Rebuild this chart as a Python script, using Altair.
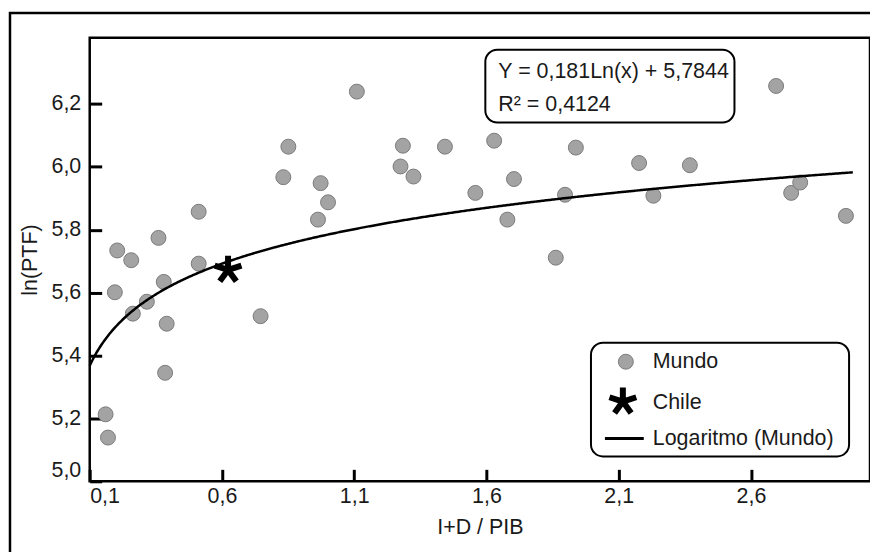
import altair as alt
import pandas as pd

# ---------------- data ----------------
mundo_x = [0.160, 0.169, 0.195, 0.204, 0.257, 0.263, 0.316, 0.360, 0.380, 0.391,
           0.385, 0.512, 0.512, 0.746, 0.832, 0.851, 0.963, 0.973, 1.001, 1.110,
           1.275, 1.284, 1.324, 1.443, 1.558, 1.629, 1.679, 1.704, 1.862, 1.897,
           1.938, 2.177, 2.231, 2.369, 2.695, 2.752, 2.786, 2.959]
mundo_y = [5.213, 5.139, 5.601, 5.734, 5.703, 5.533, 5.571, 5.774, 5.634, 5.501,
           5.345, 5.857, 5.692, 5.525, 5.967, 6.064, 5.832, 5.948, 5.887, 6.239,
           6.001, 6.067, 5.969, 6.064, 5.917, 6.083, 5.832, 5.961, 5.711, 5.911,
           6.061, 6.012, 5.908, 6.005, 6.257, 5.917, 5.950, 5.844]
chile_x = [0.623]
chile_y = [5.672]

# logarithmic trend line as printed on the chart: y = b*ln(x) + a
trend_b = 0.181
trend_a = 5.7844
trend_extent = [0.1, 2.985]

x_ticks = [0.1, 0.6, 1.1, 1.6, 2.1, 2.6]
y_ticks = [5.0, 5.2, 5.4, 5.6, 5.8, 6.0, 6.2]
x_domain = [0.1, 3.05]
y_domain = [5.0, 6.41]

equation_lines = ["Y = 0,181Ln(x) + 5,7844", "R² = 0,4124"]
legend_labels = ["Mundo", "Chile", "Logaritmo (Mundo)"]
x_title = "I+D / PIB"
y_title = "ln(PTF)"

# ---------------- style ----------------
FONT = "Liberation Sans"
FS = 21.5
TXT = "#1a1a1a"
PT_FILL = "#a3a3a3"
PT_STROKE = "#7a7a7a"
ASTERISK = ("M0,0L0,-1M0,0L0.951,-0.309M0,0L0.588,0.809"
            "M0,0L-0.588,0.809M0,0L-0.951,-0.309")
W, H = 783, 445

mundo = pd.DataFrame({"x": mundo_x, "y": mundo_y})
chile = pd.DataFrame({"x": chile_x, "y": chile_y})
one = pd.DataFrame({"k": [0]})

xs = alt.Scale(domain=x_domain, nice=False, zero=False)
ys = alt.Scale(domain=y_domain, nice=False, zero=False)
comma = "replace(format(datum.value, '.1f'), '.', ',')"

X = alt.X("x:Q", scale=xs, axis=alt.Axis(values=x_ticks, labelExpr=comma, title=x_title))
Y = alt.Y("y:Q", scale=ys, axis=alt.Axis(values=y_ticks, labelExpr=comma, title=y_title))

outer = alt.Chart(one).mark_rect(fillOpacity=0, stroke="black", strokeWidth=2.5).encode(
    x=alt.value(-80), x2=alt.value(830), y=alt.value(-25), y2=alt.value(560))

points = alt.Chart(mundo).mark_circle(
    size=225, color=PT_FILL, opacity=1, stroke=PT_STROKE, strokeWidth=1
).encode(x=X, y=Y)

trend = alt.Chart(
    alt.sequence(trend_extent[0], trend_extent[1] + 0.001, 0.005, as_="x")
).transform_calculate(
    y=f"{trend_a} + {trend_b} * log(datum.x)"
).mark_line(color="black", strokeWidth=2.5).encode(x=X, y=Y)

chile_pt = alt.Chart(chile).mark_point(
    shape=ASTERISK, size=800, filled=False, stroke="black", strokeWidth=6, opacity=1
).encode(x=X, y=Y)

# equation box
eq_box = alt.Chart(one).mark_rect(
    fill="white", stroke="black", strokeWidth=2, cornerRadius=12
).encode(x=alt.value(397), x2=alt.value(647), y=alt.value(12), y2=alt.value(85))


def txt(s, x, y):
    return alt.Chart(one).mark_text(
        align="left", baseline="alphabetic", font=FONT, fontSize=FS, color=TXT
    ).encode(x=alt.value(x), y=alt.value(y), text=alt.value(s))


eq1 = txt(equation_lines[0], 410, 40)
eq2 = txt(equation_lines[1], 410, 73)

# legend
lg_box = alt.Chart(one).mark_rect(
    fill="white", stroke="black", strokeWidth=2, cornerRadius=12
).encode(x=alt.value(503), x2=alt.value(762), y=alt.value(306), y2=alt.value(420))
lg_circle = alt.Chart(one).mark_circle(
    size=225, color=PT_FILL, opacity=1, stroke=PT_STROKE, strokeWidth=1
).encode(x=alt.value(538), y=alt.value(325))
lg_ast = alt.Chart(one).mark_point(
    shape=ASTERISK, size=800, filled=False, stroke="black", strokeWidth=6, opacity=1
).encode(x=alt.value(535), y=alt.value(365))
lg_line = alt.Chart(one).mark_rule(color="black", strokeWidth=3).encode(
    x=alt.value(517), x2=alt.value(556), y=alt.value(402))
lg_t1 = txt(legend_labels[0], 565, 331)
lg_t2 = txt(legend_labels[1], 565, 372)
lg_t3 = txt(legend_labels[2], 565, 409)

chart = alt.layer(
    outer, points, trend, chile_pt, eq_box, eq1, eq2,
    lg_box, lg_circle, lg_ast, lg_line, lg_t1, lg_t2, lg_t3
).properties(
    width=W, height=H,
    autosize=alt.AutoSizeParams(type="none"),
    padding={"left": 82, "top": 29, "right": 0, "bottom": 70},
).configure_view(
    stroke="black", strokeWidth=2.5
).configure_axis(
    domain=False, grid=False, ticks=True, tickColor="black", tickWidth=3,
    tickSize=12, offset=-12, labelFont=FONT, labelFontSize=FS, labelColor=TXT,
    titleFont=FONT, titleFontSize=FS, titleFontWeight="normal", titleColor=TXT,
    labelFlush=True,
).configure_axisX(
    labelPadding=4, titlePadding=10
).configure_axisY(
    labelPadding=9, titlePadding=10
)

chart.save("out.html", embed_options={"renderer": "svg", "actions": False})
